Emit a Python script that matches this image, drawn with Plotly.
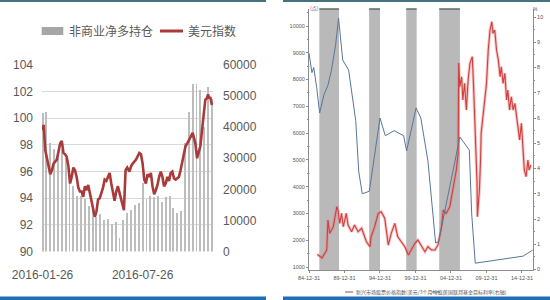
import plotly.graph_objects as go

# ---------------- Left chart data ----------------
cot_weeks = ["2016-01-26","2016-02-02","2016-02-09","2016-02-16","2016-02-23","2016-03-01","2016-03-08",
             "2016-03-15","2016-03-22","2016-03-29","2016-04-05","2016-04-12","2016-04-19","2016-04-26",
             "2016-05-03","2016-05-10","2016-05-17","2016-05-24","2016-05-31","2016-06-07","2016-06-14",
             "2016-06-21","2016-06-28","2016-07-05","2016-07-12","2016-07-19","2016-07-26","2016-08-02",
             "2016-08-09","2016-08-16","2016-08-23","2016-08-30","2016-09-06","2016-09-13","2016-09-20",
             "2016-09-27","2016-10-04","2016-10-11","2016-10-18","2016-10-25","2016-11-01","2016-11-08",
             "2016-11-15","2016-11-22","2016-11-29"]
net_long = [44500, 45000, 35000, 33000, 31000, 33000, 30000, 27000, 21000, 18000, 18000, 17000, 14500, 14000,
            11000, 12000, 10000, 10500, 9000, 9500, 4500, 10000, 12500, 13500, 15000, 15500, 22000, 17000,
            18000, 17500, 18000, 16000, 17500, 18000, 14000, 12500, 13000, 35000, 45000, 54000, 54000, 52000,
            40000, 53000, 49000]

dxy_dates = ["2016-01-26","2016-01-28","2016-01-31","2016-02-03","2016-02-09","2016-02-12","2016-02-15",
             "2016-02-21","2016-02-24","2016-02-27","2016-03-01","2016-03-04","2016-03-07","2016-03-10",
             "2016-03-13","2016-03-16","2016-03-19","2016-03-22","2016-03-25","2016-03-28","2016-03-31",
             "2016-04-03","2016-04-06","2016-04-09","2016-04-12","2016-04-15","2016-04-18","2016-04-21",
             "2016-04-24","2016-04-27","2016-04-30","2016-05-03","2016-05-06","2016-05-09","2016-05-12",
             "2016-05-15","2016-05-18","2016-05-21","2016-05-24","2016-05-27","2016-05-30","2016-06-02",
             "2016-06-05","2016-06-08","2016-06-11","2016-06-14","2016-06-17","2016-06-20","2016-06-22",
             "2016-06-25","2016-06-28","2016-07-02","2016-07-05","2016-07-08","2016-07-14","2016-07-20",
             "2016-07-23","2016-07-26","2016-07-29","2016-08-01","2016-08-04","2016-08-07","2016-08-10",
             "2016-08-13","2016-08-16","2016-08-19","2016-08-22","2016-08-25","2016-08-28","2016-08-31",
             "2016-09-03","2016-09-06","2016-09-09","2016-09-12","2016-09-15","2016-09-18","2016-09-21",
             "2016-09-24","2016-09-30","2016-10-03","2016-10-06","2016-10-09","2016-10-12","2016-10-15",
             "2016-10-21","2016-10-25","2016-10-30","2016-11-02","2016-11-08","2016-11-11","2016-11-14",
             "2016-11-17","2016-11-20","2016-11-22","2016-11-24","2016-11-26","2016-11-29"]
dxy = [99.1, 99.5, 97.6, 96.9, 95.8, 96.1, 96.6,
       96.9, 97.4, 98.1, 98.3, 97.4, 97.3, 97.1,
       96.4, 95.1, 95.6, 96.3, 96.1, 95.6, 94.8,
       94.5, 94.5, 94.1, 94.9, 94.6, 95.0, 94.4,
       94.0, 93.4, 92.6, 93.0, 93.9, 94.0, 94.4,
       94.8, 95.4, 95.3, 95.6, 95.9, 95.1, 94.4,
       93.8, 94.5, 94.9, 94.4, 93.9, 93.5, 93.1,
       96.1, 96.3, 96.0, 96.4, 96.6, 96.9, 97.4,
       97.3, 96.6, 95.4, 95.1, 95.8, 95.6, 95.9,
       94.9, 94.3, 94.6, 95.0, 95.6, 96.0, 95.6,
       94.9, 95.1, 95.6, 95.3, 95.9, 96.0, 95.5,
       95.4, 95.6, 96.1, 96.8, 97.4, 97.9, 98.1,
       98.6, 98.9, 98.1, 97.0, 97.9, 99.1, 100.4,
       101.4, 101.5, 101.8, 101.5, 101.6, 101.0]

left_ticks = ["2016-01-26", "2016-07-26"]

# ---------------- Right chart data ----------------
red_dates = ["1986-03","1986-11","1987-07","1987-09","1987-12","1988-03","1988-06","1988-09","1988-12",
             "1989-02","1989-05","1989-08","1989-11","1990-04","1990-07","1991-01","1991-06","1991-12",
             "1992-06","1992-11","1993-02","1993-08","1993-10","1994-04","1994-10","1995-03","1995-09",
             "1996-03","1996-08","1997-02","1997-07","1998-01","1998-07","1999-01","1999-06","1999-12",
             "2000-05","2000-11","2001-05","2001-10","2002-04","2002-10","2003-03","2003-09","2003-12",
             "2004-05","2004-11","2005-04","2005-10","2006-01","2006-02","2006-04","2006-07","2006-09",
             "2006-12","2007-03","2007-06","2007-09","2008-01","2008-03","2008-05","2008-08","2008-09-01",
             "2008-09-20","2009-01","2009-03","2009-04","2009-07","2009-10","2010-01","2010-04","2010-07",
             "2010-10","2010-12","2011-03","2011-06","2011-09","2011-12","2012-02","2012-05","2012-08",
             "2012-11","2013-01","2013-04","2013-07","2013-10","2014-01","2014-04","2014-06","2014-09",
             "2014-12","2015-02","2015-05","2015-08","2015-11","2016-01","2016-04"]
red_vals = [1474, 1336, 1630, 2755, 2258, 2380, 2505, 2878, 3252, 3128, 2630, 3005, 2505, 3005, 2568, 2318,
            2568, 2318, 2445, 2131, 1945, 1758, 2131, 2505, 3005, 3067, 2819, 1821, 2258, 2630, 2131, 1945,
            1758, 1448, 1635, 1885, 2008, 1758, 1571, 1758, 1635, 1635, 1821, 2505, 3128, 3005, 3252, 3875,
            4622, 5246, 8620, 7733, 8106, 7236, 7858, 6862, 7983, 8607, 8855, 7858, 6612, 5369, 4125, 2878,
            3875, 4996, 5992, 6612, 7236, 7858, 9103, 9850, 10160, 9726, 9850, 9103, 8731, 8106, 8480, 7858,
            8231, 7236, 7609, 6862, 7360, 6862, 7112, 6612, 6239, 5742, 6366, 5494, 4622, 4372, 4996, 4622,
            4809]

blue_dates = ["1985-01","1985-06","1985-09","1986-02","1986-07","1987-02","1987-09","1988-03","1988-10",
              "1989-03","1989-10","1990-08","1991-08","1992-01","1992-07","1993-07","1995-01","1995-10",
              "1997-01","1998-05","1998-10","2000-02","2000-10","2001-10","2002-11","2003-04","2006-04",
              "2007-02","2007-08","2007-12","2008-06","2015-03","2016-07"]
blue_vals = [8.57, 7.8, 8.0, 7.2, 6.2, 6.9, 7.3, 7.9, 8.9, 9.96, 8.3, 7.9, 5.9, 3.9, 3.0, 3.1, 6.0, 5.3,
             5.5, 5.3, 4.7, 6.4, 6.0, 4.3, 1.05, 1.1, 5.25, 4.9, 4.73, 2.2, 0.25, 0.53, 0.77]

hike_start = ["1986-06-15", "1993-06-20", "1998-09-10", "2003-05-05"]
hike_end = ["1989-03-25", "1995-01-01", "2000-03-01", "2006-04-05"]

right_ticks = ["1984-12-31","1989-12-31","1994-12-31","1999-12-31","2004-12-31","2009-12-31","2014-12-31"]

# ---------------- Figure ----------------
W, H = 550, 300
def fx(x): return x / W
def fy(y): return 1 - y / H

GRAY_TXT = "#595959"
NUMFONT = "Liberation Sans, Arial, sans-serif"
CJK = "Noto Sans CJK SC"

fig = go.Figure()

fig.add_trace(go.Bar(x=cot_weeks, y=net_long, xaxis="x", yaxis="y",
                     marker=dict(color="#bdbdbd", line=dict(width=0)),
                     width=1.7 * 86400000, showlegend=False))
fig.add_trace(go.Scatter(x=dxy_dates, y=dxy, xaxis="x", yaxis="y2",
                         mode="lines", line=dict(color="#a83a3a", width=2.6), showlegend=False))

# soft halo under the red series, then the series itself
fig.add_trace(go.Scatter(x=red_dates, y=red_vals, xaxis="x3", yaxis="y3", mode="lines",
                         line=dict(color="rgba(235,120,120,0.45)", width=3), showlegend=False,
                         hoverinfo="skip"))
fig.add_trace(go.Scatter(x=red_dates, y=red_vals, xaxis="x3", yaxis="y3", mode="lines",
                         line=dict(color="#cf3f3f", width=1.1), showlegend=False))
fig.add_trace(go.Scatter(x=blue_dates, y=blue_vals, xaxis="x3", yaxis="y4", mode="lines",
                         line=dict(color="#55779c", width=1), showlegend=False))

shapes = []
for s, e in zip(hike_start, hike_end):
    shapes.append(dict(type="rect", xref="x3", yref="y3 domain", x0=s, x1=e, y0=0, y1=1,
                       fillcolor="#b9b9b9", line=dict(width=0), layer="below"))
    shapes.append(dict(type="line", xref="x3", yref="y3 domain", x0=s, x1=e, y0=1, y1=1,
                       line=dict(color="#5c6b62", width=1.5), layer="below"))

shapes += [
    dict(type="rect", xref="paper", yref="paper", x0=0, x1=fx(266), y0=fy(2), y1=1,
         fillcolor="#46727d", line=dict(width=0)),
    dict(type="rect", xref="paper", yref="paper", x0=fx(283), x1=1, y0=fy(2), y1=1,
         fillcolor="#46727d", line=dict(width=0)),
    dict(type="rect", xref="paper", yref="paper", x0=0, x1=fx(266), y0=0, y1=fy(296.5),
         fillcolor="#1f6db3", line=dict(width=0)),
    dict(type="rect", xref="paper", yref="paper", x0=fx(283), x1=1, y0=0, y1=fy(296.5),
         fillcolor="#1f6db3", line=dict(width=0)),
    dict(type="rect", xref="paper", yref="paper", x0=fx(41.7), x1=fx(63.3), y0=fy(35), y1=fy(27),
         fillcolor="#a6a6a6", line=dict(width=0)),
    dict(type="line", xref="paper", yref="paper", x0=fx(160), x1=fx(183), y0=fy(31), y1=fy(31),
         line=dict(color="#a83a3a", width=3)),
    dict(type="line", xref="paper", yref="paper", x0=fx(345), x1=fx(353), y0=fy(292), y1=fy(292),
         line=dict(color="#8a5050", width=1)),
    dict(type="line", xref="paper", yref="paper", x0=fx(432), x1=fx(440), y0=fy(292), y1=fy(292),
         line=dict(color="#55779c", width=1)),
]

annotations = [
    dict(text="非商业净多持仓", x=fx(67), y=fy(31), xref="paper", yref="paper", xanchor="left",
         yanchor="middle", showarrow=False, font=dict(family=CJK, size=12, color=GRAY_TXT)),
    dict(text="美元指数", x=fx(186), y=fy(31), xref="paper", yref="paper", xanchor="left",
         yanchor="middle", showarrow=False, font=dict(family=CJK, size=12, color=GRAY_TXT)),
    dict(text="新兴市场股票价格指数(美元/3个月均值)", x=fx(354), y=fy(292), xref="paper", yref="paper",
         xanchor="left", yanchor="middle", showarrow=False, font=dict(family=CJK, size=5, color="#555")),
    dict(text="美国联邦基金目标利率(右轴)", x=fx(441), y=fy(292), xref="paper", yref="paper",
         xanchor="left", yanchor="middle", showarrow=False, font=dict(family=CJK, size=5, color="#555")),
    dict(text="(点)", x=fx(308), y=fy(8), xref="paper", yref="paper", xanchor="left",
         yanchor="middle", showarrow=False, font=dict(family=CJK, size=5, color="#555")),
    dict(text="%", x=fx(531), y=fy(9), xref="paper", yref="paper", xanchor="left",
         yanchor="middle", showarrow=False, font=dict(family=NUMFONT, size=5, color="#555")),
]

small = dict(family=NUMFONT, size=5.5, color="#555")
bigfont = dict(family=NUMFONT, size=12, color=GRAY_TXT)

fig.update_layout(
    width=W, height=H, margin=dict(l=0, r=0, t=0, b=0, autoexpand=False),
    paper_bgcolor="white", plot_bgcolor="rgba(0,0,0,0)",
    bargap=0, showlegend=False, shapes=shapes, annotations=annotations,
    xaxis=dict(domain=[fx(42), fx(213)], anchor="y", type="date", automargin=False,
               range=["2016-01-25", "2016-12-01"], tickvals=left_ticks, tickformat="%Y-%m-%d",
               showgrid=False, showline=False, zeroline=False, ticks="",
               ticklabelstandoff=14, tickfont=bigfont),
    yaxis=dict(domain=[fy(251.5), fy(65)], anchor="x", side="right", range=[0, 60000], dtick=10000,
               tickformat="d", automargin=False, showgrid=False, zeroline=False, showline=False,
               ticks="", ticklabelstandoff=9, tickfont=bigfont),
    yaxis2=dict(overlaying="y", anchor="x", side="left", range=[90, 104], dtick=2, automargin=False,
                showgrid=True, gridcolor="#d9d9d9", gridwidth=1, zeroline=False, showline=False,
                ticks="", ticklabelstandoff=8, tickfont=bigfont),
    xaxis3=dict(domain=[fx(309), fx(533)], anchor="y3", type="date", automargin=False,
                range=["1984-12-31", "2016-07-20"], tickvals=right_ticks, tickformat="%y-%m-%d",
                showgrid=False, showline=True, linecolor="#8c8c8c", linewidth=1, zeroline=False,
                ticks="outside", ticklen=2, tickcolor="#8c8c8c", tickfont=small),
    yaxis3=dict(domain=[fy(270), fy(9)], anchor="x3", range=[888, 10635], automargin=False,
                tickvals=list(range(1000, 10001, 1000)), tickformat="d",
                showgrid=False, showline=True, linecolor="#8c8c8c", linewidth=1, zeroline=False,
                ticks="outside", ticklen=2, tickcolor="#8c8c8c", tickfont=small,
                minor=dict(dtick=500, ticklen=1, tickcolor="#8c8c8c", ticks="outside")),
    yaxis4=dict(overlaying="y3", anchor="x3", side="right", range=[-0.02, 10.32], dtick=1,
                automargin=False,
                showgrid=False, showline=True, linecolor="#8c8c8c", linewidth=1, zeroline=False,
                ticks="outside", ticklen=2, tickcolor="#8c8c8c", tickfont=small,
                minor=dict(dtick=0.5, ticklen=1, tickcolor="#8c8c8c", ticks="outside")),
)

fig.write_html("out.html")
